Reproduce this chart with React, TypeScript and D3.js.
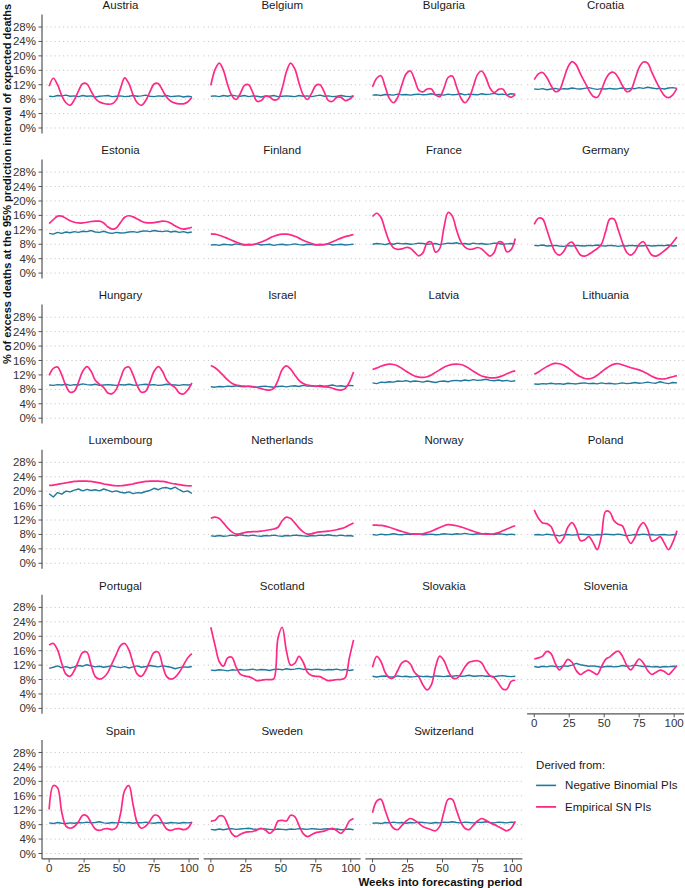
import React from 'react';
import * as d3 from 'd3';

// weeks sampled every 3 weeks across the forecasting period
const weeks = [0, 3, 6, 9, 12, 15, 18, 21, 24, 27, 30, 33, 36, 39, 42, 45, 48, 51, 54, 57, 60, 63, 66, 69, 72, 75, 78, 81, 84, 87, 90, 93, 96, 99, 102];

const countries = [
  'Austria', 'Belgium', 'Bulgaria', 'Croatia',
  'Estonia', 'Finland', 'France', 'Germany',
  'Hungary', 'Israel', 'Latvia', 'Lithuania',
  'Luxembourg', 'Netherlands', 'Norway', 'Poland',
  'Portugal', 'Scotland', 'Slovakia', 'Slovenia',
  'Spain', 'Sweden', 'Switzerland',
];

const yTicks = [0, 4, 8, 12, 16, 20, 24, 28];
const xTicks = [0, 25, 50, 75, 100];

// Negative Binomial PIs
const austriaNB = [8.8, 8.7, 9.0, 8.9, 9.1, 8.8, 8.9, 8.7, 9.0, 8.8, 8.9, 8.6, 8.8, 8.9, 9.0, 8.7, 8.8, 8.9, 8.7, 8.8, 9.0, 8.8, 8.9, 9.1, 8.8, 8.7, 8.9, 8.8, 9.0, 8.7, 8.8, 8.9, 8.6, 8.8, 8.7];
const belgiumNB = [8.8, 8.9, 8.7, 9.0, 8.8, 9.1, 8.9, 8.8, 9.0, 8.7, 8.9, 8.8, 8.6, 8.9, 8.8, 9.0, 8.7, 8.8, 8.9, 8.8, 8.7, 9.0, 8.8, 8.9, 8.7, 8.9, 9.1, 8.8, 8.9, 8.7, 8.8, 9.0, 8.8, 8.7, 8.9];
const bulgariaNB = [9.1, 9.2, 9.0, 9.3, 9.2, 9.1, 9.4, 9.2, 9.3, 9.1, 9.3, 9.4, 9.2, 9.3, 9.5, 9.2, 9.3, 9.1, 9.4, 9.2, 9.3, 9.5, 9.2, 9.4, 9.3, 9.2, 9.5, 9.3, 9.4, 9.6, 9.3, 9.4, 9.2, 9.5, 9.4];
const croatiaNB = [10.8, 10.7, 10.9, 10.6, 10.8, 11.0, 10.7, 10.9, 10.8, 11.1, 10.9, 10.8, 11.0, 11.2, 10.9, 10.7, 10.9, 10.8, 11.0, 10.8, 10.9, 11.1, 10.8, 11.0, 10.9, 11.2, 11.0, 11.3, 11.1, 10.9, 11.0, 10.8, 11.1, 11.2, 11.0];
const estoniaNB = [11.0, 10.8, 11.3, 11.0, 11.4, 11.2, 11.5, 11.3, 11.6, 11.5, 11.8, 11.4, 11.3, 11.6, 11.2, 11.0, 11.3, 11.1, 11.2, 11.4, 11.5, 11.3, 11.6, 11.7, 11.5, 11.8, 11.6, 11.5, 11.7, 11.4, 11.6, 11.3, 11.5, 11.2, 11.4];
const finlandNB = [7.8, 7.9, 7.7, 8.0, 7.9, 7.8, 8.1, 7.9, 7.8, 8.0, 7.9, 8.1, 7.8, 7.9, 8.0, 7.7, 7.9, 8.0, 7.8, 7.9, 8.1, 7.9, 7.8, 8.0, 7.9, 7.8, 8.0, 7.9, 8.1, 7.8, 7.9, 8.0, 7.8, 7.9, 8.0];
const franceNB = [8.0, 8.2, 8.1, 7.9, 8.2, 8.0, 8.3, 8.1, 8.2, 8.0, 8.1, 8.3, 8.2, 8.0, 8.1, 8.2, 7.9, 8.1, 8.3, 8.2, 8.4, 8.1, 8.2, 8.0, 8.3, 8.1, 8.2, 8.0, 8.1, 8.3, 8.2, 8.0, 8.1, 8.2, 8.1];
const germanyNB = [7.7, 7.6, 7.8, 7.5, 7.6, 7.7, 7.5, 7.4, 7.6, 7.5, 7.7, 7.6, 7.5, 7.7, 7.6, 7.8, 7.6, 7.5, 7.7, 7.6, 7.4, 7.6, 7.5, 7.7, 7.6, 7.5, 7.6, 7.7, 7.5, 7.6, 7.7, 7.6, 7.8, 7.5, 7.6];
const hungaryNB = [9.2, 9.1, 9.3, 9.2, 9.4, 9.1, 9.3, 9.2, 9.5, 9.3, 9.2, 9.4, 9.1, 9.2, 9.3, 9.2, 9.1, 9.3, 9.2, 9.4, 9.2, 9.1, 9.3, 9.4, 9.2, 9.3, 9.1, 9.2, 9.4, 9.3, 9.2, 9.1, 9.3, 9.2, 9.3];
const israelNB = [8.7, 8.6, 8.8, 8.7, 8.9, 8.8, 9.0, 8.8, 8.7, 8.9, 8.8, 8.6, 8.8, 8.9, 8.7, 8.6, 8.8, 8.9, 8.7, 8.9, 9.0, 8.8, 9.1, 8.9, 9.0, 8.8, 9.1, 8.9, 9.0, 9.2, 8.9, 9.0, 8.8, 9.1, 9.0];
const latviaNB = [9.8, 9.6, 10.0, 9.9, 10.1, 10.0, 10.3, 10.2, 10.4, 10.1, 10.3, 10.2, 10.0, 10.3, 10.1, 9.9, 10.2, 10.3, 10.1, 10.4, 10.5, 10.3, 10.6, 10.4, 10.7, 10.5, 10.6, 10.8, 10.5, 10.4, 10.6, 10.3, 10.5, 10.2, 10.4];
const lithuaniaNB = [9.5, 9.4, 9.6, 9.5, 9.7, 9.5, 9.6, 9.4, 9.7, 9.6, 9.5, 9.7, 9.8, 9.6, 9.7, 9.5, 9.8, 9.6, 9.7, 9.5, 9.6, 9.8, 9.6, 9.7, 9.9, 9.7, 9.8, 10.0, 9.8, 9.7, 10.1, 9.8, 9.6, 9.9, 9.8];
const luxembourgNB = [19.3, 18.4, 19.6, 19.2, 20.0, 19.8, 20.3, 20.6, 20.1, 20.5, 20.2, 20.4, 20.1, 20.6, 20.2, 19.8, 20.1, 19.7, 19.5, 19.8, 19.3, 19.6, 19.5, 19.9, 20.2, 20.8, 20.4, 20.9, 21.0, 20.6, 21.1, 20.4, 19.8, 20.1, 19.4];
const netherlandsNB = [7.6, 7.5, 7.7, 7.5, 7.6, 7.8, 7.6, 7.9, 7.7, 7.6, 7.8, 7.6, 7.5, 7.7, 7.6, 7.8, 7.6, 7.5, 7.7, 7.6, 7.8, 7.7, 7.6, 7.5, 7.7, 7.6, 7.8, 7.7, 7.9, 7.7, 7.6, 7.8, 7.6, 7.7, 7.5];
const norwayNB = [8.0, 7.8, 8.1, 7.9, 8.0, 8.2, 8.0, 7.9, 8.1, 8.0, 8.2, 8.1, 7.9, 8.0, 8.1, 7.9, 8.0, 8.2, 8.1, 8.0, 8.2, 8.1, 8.3, 8.1, 8.0, 8.2, 8.1, 8.3, 8.1, 8.0, 8.2, 8.1, 7.9, 8.1, 7.9];
const polandNB = [7.9, 8.0, 7.8, 8.1, 7.9, 7.8, 7.6, 7.9, 8.0, 7.8, 7.9, 8.1, 8.0, 7.9, 7.8, 8.0, 7.9, 8.1, 8.0, 7.9, 8.1, 7.9, 7.6, 7.8, 8.0, 7.9, 8.1, 7.9, 8.0, 7.8, 7.9, 8.0, 7.8, 7.9, 8.0];
const portugalNB = [11.1, 11.4, 11.8, 11.3, 11.6, 11.2, 11.5, 11.9, 11.7, 12.1, 11.8, 11.5, 11.7, 11.4, 11.6, 11.8, 11.5, 11.3, 11.6, 11.2, 11.5, 11.8, 11.4, 11.6, 11.9, 11.7, 11.5, 11.8, 11.6, 11.4, 11.0, 11.3, 11.5, 11.4, 11.6];
const scotlandNB = [10.6, 10.5, 10.7, 10.6, 10.4, 10.7, 10.6, 10.8, 10.6, 10.7, 10.9, 10.6, 10.8, 10.7, 10.5, 10.8, 10.9, 10.7, 11.0, 10.8, 10.9, 11.1, 10.8, 10.9, 10.7, 10.9, 10.8, 10.6, 10.8, 10.7, 10.9, 10.6, 10.8, 10.5, 10.7];
const slovakiaNB = [8.9, 8.7, 8.9, 9.0, 8.8, 8.7, 9.0, 8.8, 8.9, 8.7, 8.8, 9.0, 8.8, 8.9, 8.7, 9.0, 8.9, 8.8, 9.0, 8.9, 9.1, 8.9, 9.0, 9.2, 8.9, 9.0, 9.1, 8.9, 9.0, 8.8, 9.0, 9.1, 8.9, 8.8, 8.9];
const sloveniaNB = [11.6, 11.4, 11.7, 11.5, 11.8, 11.6, 11.5, 11.8, 11.7, 12.0, 12.5, 12.1, 11.9, 11.7, 11.8, 11.6, 11.4, 11.6, 11.7, 11.5, 11.6, 11.9, 11.7, 11.8, 12.0, 11.8, 11.6, 11.7, 11.5, 11.6, 11.4, 11.6, 11.5, 11.7, 11.6];
const spainNB = [8.5, 8.3, 8.6, 8.4, 8.3, 8.5, 8.4, 8.6, 8.5, 8.7, 8.5, 8.6, 8.8, 8.5, 8.4, 8.6, 8.5, 8.7, 8.5, 8.6, 8.4, 8.6, 8.5, 8.7, 8.5, 8.4, 8.6, 8.5, 8.4, 8.6, 8.5, 8.4, 8.6, 8.5, 8.6];
const swedenNB = [6.7, 6.5, 6.8, 6.6, 6.8, 6.9, 6.7, 6.8, 6.9, 7.0, 6.8, 6.7, 6.9, 6.8, 6.7, 6.6, 6.8, 6.7, 6.6, 6.8, 6.7, 6.9, 6.8, 6.7, 6.9, 6.8, 6.7, 6.8, 6.9, 6.7, 6.8, 6.6, 6.7, 6.8, 6.6];
const switzerlandNB = [8.4, 8.5, 8.3, 8.6, 8.5, 8.7, 8.5, 8.6, 8.4, 8.6, 8.5, 8.7, 8.6, 8.5, 8.4, 8.6, 8.5, 8.7, 8.6, 8.8, 8.6, 8.5, 8.7, 8.6, 8.5, 8.7, 8.6, 8.8, 8.6, 8.5, 8.7, 8.6, 8.5, 8.7, 8.6];

// Empirical SN PIs
const austriaSN = [11.6, 13.8, 12.0, 9.0, 7.0, 6.3, 7.8, 10.3, 12.3, 12.2, 10.2, 8.2, 7.2, 6.8, 6.6, 6.7, 7.8, 11.0, 13.9, 12.3, 9.2, 7.0, 6.3, 7.6, 10.0, 12.2, 12.3, 10.5, 8.5, 7.4, 6.9, 6.7, 6.7, 7.2, 8.5];
const belgiumSN = [11.8, 16.2, 18.0, 16.0, 12.0, 9.0, 7.9, 9.5, 11.8, 12.0, 9.8, 7.4, 7.6, 8.8, 8.6, 7.8, 8.0, 11.0, 15.6, 18.0, 16.4, 12.5, 9.2, 7.9, 9.6, 11.8, 12.0, 10.0, 7.6, 7.4, 8.5, 8.5, 7.6, 8.0, 9.0];
const bulgariaSN = [11.4, 13.8, 14.5, 11.5, 8.2, 7.0, 8.5, 12.0, 15.0, 15.8, 13.5, 10.5, 10.0, 10.8, 10.8, 9.2, 8.7, 11.0, 14.0, 14.4, 11.5, 8.4, 7.0, 8.3, 11.5, 14.8, 15.8, 14.0, 11.0, 9.8, 10.7, 10.8, 9.2, 8.5, 9.3];
const croatiaSN = [13.4, 15.0, 15.4, 14.0, 11.8, 10.1, 10.5, 13.5, 16.8, 18.4, 17.5, 15.0, 12.8, 10.5, 8.8, 8.5, 10.5, 13.5, 15.2, 15.4, 14.0, 11.8, 10.1, 10.5, 13.5, 16.8, 18.3, 18.0, 15.5, 13.0, 10.8, 9.0, 8.4, 9.2, 11.0];
const estoniaSN = [13.7, 14.8, 15.8, 15.8, 15.2, 14.5, 14.1, 13.9, 13.9, 14.1, 14.3, 14.4, 14.4, 13.9, 12.8, 12.2, 12.5, 14.0, 15.5, 15.9, 15.6, 15.0, 14.4, 14.0, 13.9, 14.0, 14.2, 14.4, 14.3, 13.8, 13.1, 12.5, 12.2, 12.4, 12.7];
const finlandSN = [10.9, 10.8, 10.5, 10.1, 9.6, 9.1, 8.6, 8.2, 7.9, 7.8, 7.9, 8.2, 8.6, 9.1, 9.7, 10.2, 10.6, 10.8, 10.8, 10.6, 10.2, 9.7, 9.1, 8.6, 8.2, 7.9, 7.8, 7.9, 8.2, 8.7, 9.2, 9.7, 10.1, 10.4, 10.7];
const franceSN = [15.7, 16.6, 15.5, 12.0, 8.8, 7.0, 6.6, 6.7, 7.1, 6.9, 5.8, 4.8, 5.6, 8.4, 8.6, 5.8, 6.8, 12.5, 16.8, 15.8, 12.0, 8.8, 7.2, 6.6, 6.7, 7.1, 6.7, 5.6, 4.7, 5.8, 8.6, 8.4, 5.9, 6.5, 9.6];
const germanySN = [13.5, 15.2, 15.0, 12.0, 8.5, 5.8, 5.0, 6.0, 8.0, 8.6, 6.8, 5.0, 4.7, 5.2, 6.0, 6.8, 8.0, 11.5, 15.0, 15.0, 12.0, 8.5, 5.8, 5.0, 6.0, 8.0, 8.7, 6.8, 5.0, 4.7, 5.3, 6.2, 7.2, 8.5, 10.0];
const hungarySN = [11.9, 13.8, 14.2, 12.0, 9.0, 7.2, 7.5, 10.0, 13.0, 14.3, 13.0, 10.5, 9.4, 8.5, 7.0, 6.8, 8.0, 11.0, 13.8, 14.2, 12.0, 9.0, 7.2, 7.5, 10.0, 13.0, 14.3, 13.0, 10.5, 9.3, 8.5, 7.0, 6.7, 7.8, 9.8];
const israelSN = [14.6, 14.0, 13.0, 11.8, 10.6, 9.7, 9.2, 9.0, 8.9, 8.8, 8.7, 8.5, 8.2, 7.9, 7.8, 8.3, 10.5, 13.5, 14.5, 13.6, 12.0, 10.5, 9.6, 9.2, 9.0, 8.9, 8.8, 8.7, 8.6, 8.3, 7.9, 7.8, 8.2, 10.0, 12.8];
const latviaSN = [13.5, 13.9, 14.4, 14.8, 15.0, 14.9, 14.5, 13.8, 13.0, 12.3, 11.7, 11.4, 11.3, 11.5, 12.0, 12.7, 13.4, 14.1, 14.6, 14.9, 15.0, 14.9, 14.5, 13.8, 13.0, 12.3, 11.7, 11.4, 11.2, 11.2, 11.4, 11.8, 12.3, 12.8, 13.1];
const lithuaniaSN = [12.2, 12.8, 13.6, 14.3, 14.9, 15.2, 15.1, 14.7, 14.0, 13.1, 12.2, 11.5, 11.0, 10.9, 11.2, 11.9, 12.8, 13.7, 14.5, 15.0, 15.1, 14.8, 14.4, 14.0, 13.7, 13.4, 12.9, 12.3, 11.6, 11.1, 10.9, 10.9, 11.2, 11.5, 11.8];
const luxembourgSN = [21.6, 21.7, 21.9, 22.1, 22.3, 22.5, 22.7, 22.8, 22.8, 22.8, 22.7, 22.5, 22.3, 22.0, 21.8, 21.6, 21.5, 21.5, 21.6, 21.8, 22.0, 22.3, 22.5, 22.7, 22.8, 22.8, 22.8, 22.7, 22.5, 22.2, 22.0, 21.8, 21.6, 21.5, 21.5];
const netherlandsSN = [12.5, 12.8, 12.4, 11.2, 9.8, 8.7, 8.1, 8.2, 8.5, 8.7, 8.8, 8.8, 8.9, 9.1, 9.3, 9.5, 10.0, 11.8, 12.8, 12.4, 11.2, 9.8, 8.7, 8.1, 8.2, 8.5, 8.7, 8.8, 8.9, 9.1, 9.3, 9.6, 10.0, 10.6, 11.2];
const norwaySN = [10.6, 10.6, 10.5, 10.3, 10.0, 9.6, 9.2, 8.8, 8.5, 8.2, 8.1, 8.1, 8.2, 8.5, 8.9, 9.4, 9.9, 10.4, 10.7, 10.6, 10.4, 10.1, 9.7, 9.3, 8.9, 8.5, 8.2, 8.1, 8.1, 8.2, 8.5, 9.0, 9.5, 10.0, 10.4];
const polandSN = [14.8, 12.5, 11.2, 11.0, 10.2, 7.5, 5.6, 7.0, 10.0, 11.3, 9.5, 6.3, 6.5, 7.4, 5.8, 3.8, 7.5, 14.4, 14.2, 11.8, 10.8, 10.4, 7.5, 5.5, 7.2, 10.0, 11.3, 9.5, 6.2, 6.6, 7.4, 5.6, 3.8, 5.8, 9.0];
const portugalSN = [17.6, 18.0, 16.2, 12.5, 9.5, 8.9, 10.5, 13.2, 15.5, 15.6, 12.0, 8.8, 8.1, 8.6, 10.0, 12.5, 15.0, 17.4, 18.0, 16.2, 12.5, 9.5, 8.9, 10.5, 13.2, 15.5, 15.6, 12.0, 8.8, 8.1, 8.6, 10.0, 12.0, 14.0, 15.2];
const scotlandSN = [22.5, 17.5, 13.0, 11.7, 14.0, 14.2, 11.5, 9.5, 9.0, 8.8, 8.3, 7.7, 7.8, 8.0, 8.0, 8.2, 19.5, 22.5, 16.0, 12.0, 12.5, 14.4, 12.8, 10.0, 9.1, 8.9, 8.8, 8.2, 7.7, 7.8, 8.0, 8.0, 8.5, 14.0, 19.0];
const slovakiaSN = [11.4, 14.4, 13.0, 10.0, 8.5, 8.5, 10.5, 12.6, 13.2, 12.3, 10.0, 8.8, 6.5, 5.1, 6.5, 11.5, 14.5, 13.3, 10.5, 8.5, 8.3, 9.5, 11.5, 12.8, 13.1, 13.2, 12.6, 10.5, 9.0, 8.5, 7.0, 5.4, 5.3, 7.5, 7.8];
const sloveniaSN = [13.7, 14.0, 14.5, 15.8, 15.2, 12.5, 10.7, 12.0, 13.6, 12.8, 10.5, 9.4, 10.1, 10.6, 10.0, 9.4, 11.5, 13.6, 14.3, 15.3, 15.9, 14.5, 12.0, 10.7, 12.2, 13.7, 12.6, 10.5, 9.4, 10.0, 10.6, 10.2, 9.4, 10.5, 11.9];
const spainSN = [12.2, 18.8, 18.2, 11.5, 7.6, 7.0, 7.5, 8.8, 10.6, 10.4, 8.5, 6.8, 6.4, 6.8, 6.9, 6.6, 7.2, 11.0, 17.5, 18.8, 13.5, 8.5, 7.0, 7.6, 9.0, 10.6, 10.4, 8.5, 6.8, 6.4, 6.8, 6.9, 6.6, 7.0, 8.8];
const swedenSN = [9.0, 9.2, 10.4, 10.3, 8.0, 5.5, 4.7, 5.3, 5.8, 6.0, 6.1, 6.5, 7.0, 6.5, 5.6, 6.5, 9.0, 9.2, 9.0, 10.6, 10.2, 7.8, 5.5, 4.7, 5.2, 5.8, 6.0, 6.2, 6.7, 7.0, 6.3, 5.6, 6.8, 9.0, 9.7];
const switzerlandSN = [11.3, 14.5, 15.0, 12.0, 8.8, 7.0, 6.6, 7.8, 9.0, 9.7, 9.2, 8.4, 7.5, 7.0, 6.6, 6.3, 7.5, 11.5, 15.0, 15.0, 12.0, 8.8, 7.0, 6.6, 7.8, 9.0, 9.7, 9.2, 8.5, 8.0, 7.4, 6.8, 6.3, 7.0, 8.9];

const nbSeries = [austriaNB, belgiumNB, bulgariaNB, croatiaNB, estoniaNB, finlandNB, franceNB, germanyNB, hungaryNB, israelNB, latviaNB, lithuaniaNB, luxembourgNB, netherlandsNB, norwayNB, polandNB, portugalNB, scotlandNB, slovakiaNB, sloveniaNB, spainNB, swedenNB, switzerlandNB];
const snSeries = [austriaSN, belgiumSN, bulgariaSN, croatiaSN, estoniaSN, finlandSN, franceSN, germanySN, hungarySN, israelSN, latviaSN, lithuaniaSN, luxembourgSN, netherlandsSN, norwaySN, polandSN, portugalSN, scotlandSN, slovakiaSN, sloveniaSN, spainSN, swedenSN, switzerlandSN];

const NB_COLOR = '#1f7a9e';
const SN_COLOR = '#fc2a86';
const FONT = '"Liberation Sans", Arial, Helvetica, sans-serif';

const width = 685;
const height = 888;
const panelW = 157;
const panelH = 119;
const colStep = 161.7;
const rowStep = 145.1;
const left0 = 42;
const top0 = 14.4;

const x = d3.scaleLinear().domain([-5.1, 107.1]).range([0, panelW]);
const y = d3.scaleLinear().domain([-1.5, 31.5]).range([panelH, 0]);

const nbLine = d3.line<number>()
  .x((_, i) => x(weeks[i]))
  .y(d => y(d))
  .curve(d3.curveLinear);

const snLine = d3.line<number>()
  .x((_, i) => x(weeks[i]))
  .y(d => y(d))
  .curve(d3.curveCatmullRom.alpha(0.5));

const Panel: React.FC<{ i: number }> = ({ i }) => {
  const col = i % 4;
  const row = Math.floor(i / 4);
  const tx = left0 + col * colStep;
  const ty = top0 + row * rowStep;
  const showY = col === 0;
  const showX = i + 4 >= countries.length;

  return (
    <g transform={`translate(${tx},${ty})`}>
      <text x={panelW / 2} y={-5.3} textAnchor="middle" fontSize={11.5} fill="#1a1a1a">
        {countries[i]}
      </text>
      {yTicks.map(t => (
        <line key={t} x1={0} x2={panelW} y1={y(t)} y2={y(t)}
          stroke="#c9c9c9" strokeWidth={1} strokeDasharray="1.2 3" />
      ))}
      <path d={nbLine(nbSeries[i]) || ''} fill="none" stroke={NB_COLOR} strokeWidth={1.4} strokeLinejoin="round" />
      <path d={snLine(snSeries[i]) || ''} fill="none" stroke={SN_COLOR} strokeWidth={1.7} strokeLinejoin="round" />
      {showY && (
        <g>
          <line x1={0} x2={0} y1={0} y2={panelH} stroke="#555" strokeWidth={1.2} />
          {yTicks.map(t => (
            <g key={t} transform={`translate(0,${y(t)})`}>
              <line x1={-3.5} x2={0} stroke="#555" strokeWidth={1} />
              <text x={-6} dy="0.35em" textAnchor="end" fontSize={11.5} fill="#333">{`${t}%`}</text>
            </g>
          ))}
        </g>
      )}
      {showX && (
        <g transform={`translate(0,${panelH})`}>
          <line x1={0} x2={panelW} stroke="#555" strokeWidth={1.2} />
          {xTicks.map(t => (
            <g key={t} transform={`translate(${x(t)},0)`}>
              <line y1={0} y2={3.5} stroke="#555" strokeWidth={1} />
              <text y={13.5} textAnchor="middle" fontSize={11.5} fill="#333">{t}</text>
            </g>
          ))}
        </g>
      )}
    </g>
  );
};

const App: React.FC = () => {
  const legendX = left0 + 3 * colStep + 9;
  const legendY = top0 + 5 * rowStep;
  return (
    <svg width={width} height={height} viewBox={`0 0 ${width} ${height}`}
      style={{ position: 'absolute', left: 0, top: 0, background: '#fff' }} fontFamily={FONT}>
      {countries.map((_, i) => <Panel key={countries[i]} i={i} />)}

      <text transform={`translate(11,184) rotate(-90)`} textAnchor="middle" fontSize={11} fontWeight="bold" fill="#111">
        % of excess deaths at the 95% prediction interval of expected deaths
      </text>
      <text x={left0 + 2 * colStep + panelW} y={885.5} textAnchor="end" fontSize={11.5} fontWeight="bold" fill="#111">
        Weeks into forecasting period
      </text>

      <g transform={`translate(${legendX},${legendY})`}>
        <text x={0} y={29} fontSize={11.5} fill="#1a1a1a">Derived from:</text>
        <line x1={0} x2={20} y1={45.5} y2={45.5} stroke={NB_COLOR} strokeWidth={1.6} />
        <text x={29} y={49.5} fontSize={11.5} fill="#1a1a1a">Negative Binomial PIs</text>
        <line x1={0} x2={20} y1={67} y2={67} stroke={SN_COLOR} strokeWidth={1.8} />
        <text x={29} y={71} fontSize={11.5} fill="#1a1a1a">Empirical SN PIs</text>
      </g>
    </svg>
  );
};

export default App;
